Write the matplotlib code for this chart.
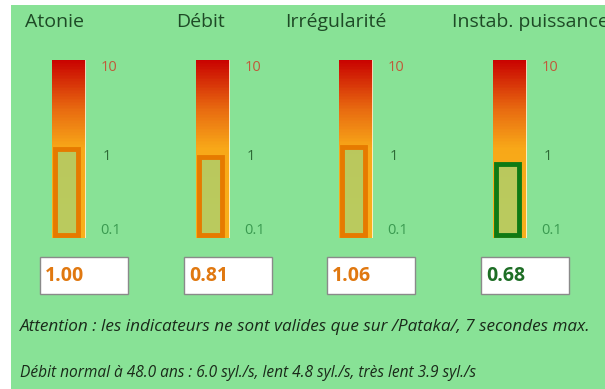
import numpy as np
import matplotlib.pyplot as plt
from matplotlib.colors import LinearSegmentedColormap
from matplotlib.patches import Rectangle

# indicator names and measured values
names = ['Atonie', 'Débit', 'Irrégularité', 'Instab. puissance']
values = [1.00, 0.81, 1.06, 0.68]
limits = [0.1, 10]
tick_vals = [10, 1, 0.1]
tick_txt = ['10', '1', '0.1']
note1 = 'Attention : les indicateurs ne sont valides que sur /Pataka/, 7 secondes max.'
note2 = 'Débit normal à 48.0 ans : 6.0 syl./s, lent 4.8 syl./s, très lent 3.9 syl./s'

bg = '#88e296'
W, H = 605, 389
fig = plt.figure(figsize=(W/100, H/100), dpi=100)
fig.patch.set_facecolor('white')
# green panel (thin white margin on top/left)
fig.add_artist(Rectangle((11/W, 0), 1, (H-5)/H, transform=fig.transFigure,
                         facecolor=bg, edgecolor='none', zorder=0))

def px(x, y, w, h):
    return [x/W, 1-(y+h)/H, w/W, h/H]

cmap = LinearSegmentedColormap.from_list('g', [(0, '#f8b01c'), (0.5, '#f8a818'),
                                               (0.72, '#e86a10'), (1, '#c80000')])
bar_x = [52, 196, 339, 493]
title_x = [25, 176, 285, 452]
text_fam = ['Open Sans', 'DejaVu Sans']

for i in range(4):
    v = values[i]
    good = v < 0.75
    col = '#0e7a14' if good else '#e67a00'
    txtcol = '#1e6e26' if good else '#e07810'

    fig.text(title_x[i]/W, 1-22/H, names[i], fontsize=14, color='#1e4a26',
             va='center', ha='left', family=text_fam)

    ax = fig.add_axes(px(bar_x[i], 60, 34, 178))
    ax.set_yscale('log')
    ax.set_xlim(0, 1)
    ax.set_ylim(*limits)
    ye = np.geomspace(limits[0], limits[1], 120)
    z = np.log10(ye[:-1, None]) / 2 + 0.5
    ax.pcolormesh([0, 1], ye, z, cmap=cmap, vmin=0, vmax=1, shading='flat')
    # current value
    ax.bar(0.43, v - 0.107, bottom=0.107, width=0.66, color=bg, alpha=0.55,
           edgecolor='none')
    ax.bar(0.43, v - 0.107, bottom=0.107, width=0.66, facecolor='none',
           edgecolor=col, linewidth=3.5)
    ax.axvline(1, color='#fff8d8', lw=1.2)
    ax.set_xticks([])
    ax.set_yticks([])
    ax.minorticks_off()
    for s in ax.spines.values():
        s.set_visible(False)
    tr = ax.get_yaxis_transform()
    ax.text(1.42, 10, tick_txt[0], transform=tr, va='top', fontsize=10.5,
            color='#c05a3a', family=text_fam)
    ax.text(1.5, 1, tick_txt[1], transform=tr, va='top', fontsize=10.5,
            color='#2e6a36', family=text_fam)
    ax.text(1.42, 0.1, tick_txt[2], transform=tr, va='bottom', fontsize=10.5,
            color='#3a9a50', family=text_fam)

    bx = bar_x[i] - 12
    fig.add_artist(Rectangle((bx/W, 1-294/H), 88/W, 37/H, transform=fig.transFigure,
                             facecolor='white', edgecolor='#8a8a8a', lw=1))
    fig.text((bx+5)/W, 1-276/H, f'{v:.2f}', fontsize=14, fontweight='bold',
             color=txtcol, va='center', ha='left', family=text_fam)

fig.text(20/W, 1-327/H, note1, fontsize=12.3, style='italic', color='#1a2a1a',
         va='center', family=text_fam)
fig.text(20/W, 1-373/H, note2, fontsize=11.2, style='italic', color='#1a2a1a',
         va='center', family=text_fam)

fig.savefig('out.png', dpi=100, facecolor=fig.get_facecolor())
